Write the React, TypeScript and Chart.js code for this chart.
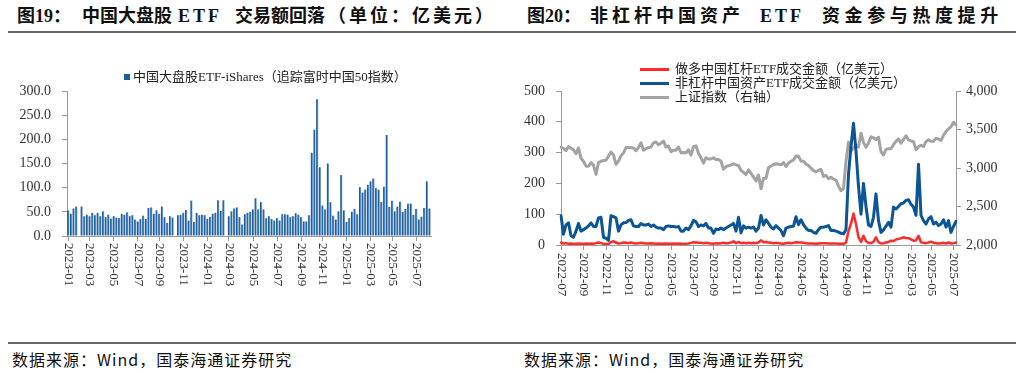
import React, { useEffect, useRef } from 'react';
import { Chart, registerables } from 'chart.js';

Chart.register(...registerables);

const SERIF_CJK = '"Liberation Serif", "Noto Sans CJK SC", serif';

// ---------------- 图19 data (weekly) ----------------
const fig19Start = '2023-01-06';
const fig19Turnover: number[] = [
  53, 46, 57, 61, 0, 61, 41, 44, 41, 48,
  43, 48, 41, 51, 39, 44, 36, 41, 38, 37,
  46, 44, 49, 41, 43, 34, 30, 35, 42, 35,
  58, 59, 46, 53, 46, 61, 39, 27, 41, 38,
  0, 43, 44, 48, 54, 32, 73, 29, 48, 43,
  44, 43, 35, 39, 46, 48, 74, 52, 74, 0,
  41, 51, 57, 59, 39, 24, 45, 48, 50, 55,
  78, 55, 70, 55, 37, 41, 35, 32, 37, 32,
  45, 45, 44, 39, 41, 47, 44, 39, 30, 30,
  43, 172, 220, 283, 142, 63, 55, 150, 70, 42,
  34, 51, 126, 53, 29, 37, 50, 56, 45, 101,
  90, 96, 106, 113, 119, 99, 96, 70, 102, 209,
  60, 73, 51, 61, 71, 50, 56, 67, 67, 44,
  56, 34, 40, 58, 113, 57,
];
const fig19YMin = 0;
const fig19YMax = 300;
const fig19YStep = 50;

// ---------------- 图20 data (weekly) ----------------
const fig20Start = '2022-07-01';
const leveragedLong: number[] = [
  8, 5, 6, 4, 5, 3, 4, 5, 4, 3,
  5, 4, 5, 4, 6, 8, 6, 4, 3, 3,
  10, 12, 8, 5, 6, 8, 7, 6, 8, 6,
  5, 6, 7, 6, 5, 5, 6, 5, 4, 5,
  4, 4, 5, 4, 4, 5, 4, 5, 4, 3,
  4, 5, 7, 9, 8, 7, 7, 6, 7, 6,
  5, 4, 6, 5, 6, 7, 6, 6, 8, 12,
  6, 10, 6, 7, 6, 7, 6, 7, 6, 8,
  15, 9, 10, 8, 7, 6, 7, 6, 5, 4,
  6, 7, 6, 7, 9, 8, 8, 7, 6, 5,
  5, 5, 4, 5, 6, 6, 6, 5, 5, 5,
  5, 4, 4, 4, 8, 45, 70, 102, 68, 25,
  10, 30, 12, 7, 6, 10, 25, 9, 5, 6,
  8, 10, 14, 13, 18, 20, 22, 25, 23, 22,
  18, 14, 15, 30, 9, 7, 6, 8, 11, 7,
  6, 5, 6, 7, 5, 8, 5, 6, 8,
];
const nonLeveraged: number[] = [
  95, 35, 65, 72, 30, 25, 45, 70, 45, 50,
  55, 62, 72, 60, 60, 88, 90, 25, 22, 15,
  95, 92, 88, 45, 65, 72, 73, 80, 82, 62,
  60, 60, 70, 65, 65, 68, 60, 65, 58, 55,
  55, 50, 60, 62, 60, 60, 58, 60, 45, 45,
  55, 50, 62, 80, 75, 60, 65, 62, 70, 55,
  55, 38, 52, 50, 55, 50, 55, 60, 65, 70,
  45, 90, 40, 62, 55, 58, 55, 58, 45, 55,
  96, 65, 82, 70, 58, 52, 63, 55, 47, 30,
  55, 58, 60, 61, 92, 66, 82, 66, 55, 47,
  47, 41, 38, 50, 58, 58, 60, 63, 47, 47,
  45, 42, 38, 36, 50, 230, 320, 395, 305, 190,
  100, 200, 125, 65, 60, 90, 166, 79, 41, 49,
  61, 74, 58, 123, 117, 125, 134, 136, 145, 147,
  132, 123, 96, 262, 96, 79, 68, 85, 92, 68,
  74, 63, 68, 82, 58, 79, 41, 60, 77,
];
const shanghaiComposite: number[] = [
  3270, 3253, 3227, 3277, 3258, 3236, 3186, 3262, 3126, 3088,
  3024, 3024, 3071, 3038, 2916, 3070, 3087, 3097, 3101, 3156,
  3206, 3168, 3046, 3089, 3158, 3195, 3265, 3265, 3263, 3260,
  3224, 3267, 3328, 3230, 3251, 3265, 3273, 3327, 3338, 3301,
  3323, 3350, 3272, 3284, 3213, 3231, 3231, 3273, 3198, 3202,
  3197, 3237, 3168, 3276, 3288, 3189, 3132, 3064, 3133, 3117,
  3117, 3132, 3110, 3110, 3088, 2983, 3017, 3030, 3039, 3054,
  3041, 3032, 2970, 2942, 2914, 2975, 2929, 2882, 2832, 2910,
  2730, 2866, 2866, 3004, 3027, 3046, 3055, 3048, 3041, 3069,
  3019, 3065, 3088, 3105, 3155, 3154, 3089, 3087, 3051, 3033,
  2998, 2967, 2950, 2971, 2982, 2891, 2905, 2862, 2879, 2855,
  2842, 2765, 2704, 2736, 3088, 3336, 3217, 3261, 3300, 3272,
  3452, 3330, 3268, 3326, 3404, 3392, 3368, 3400, 3211, 3169,
  3241, 3252, 3250, 3303, 3346, 3379, 3321, 3372, 3419, 3364,
  3351, 3342, 3238, 3277, 3296, 3279, 3342, 3367, 3348, 3347,
  3385, 3377, 3359, 3424, 3473, 3510, 3534, 3593, 3560,
];
const fig20LeftMin = 0;
const fig20LeftMax = 500;
const fig20LeftStep = 100;
const fig20RightMin = 2000;
const fig20RightMax = 4000;
const fig20RightStep = 500;

const fig19Legend = '中国大盘股ETF-iShares（追踪富时中国50指数）';
const fig20Legends = [
  '做多中国杠杆ETF成交金额（亿美元）',
  '非杠杆中国资产ETF成交金额（亿美元）',
  '上证指数（右轴）',
];

// ---------------- helpers ----------------
function weeklyDates(start: string, count: number): string[] {
  const [y, m, d] = start.split('-').map(Number);
  const t0 = Date.UTC(y, m - 1, d);
  const out: string[] = [];
  for (let i = 0; i < count; i++) {
    out.push(new Date(t0 + i * 7 * 86400000).toISOString().slice(0, 10));
  }
  return out;
}

function monthTick(labels: string[], i: number): string {
  const cur = labels[i].slice(0, 7);
  const month = Number(labels[i].slice(5, 7));
  if (month % 2 === 0) return '';
  if (i > 0 && labels[i - 1].slice(0, 7) === cur) return '';
  return cur;
}

function makeVerticalLabels(gap: number) {
  return {
    id: 'verticalTickLabels',
    afterDraw(chart: any) {
      const scale = chart.scales.x;
      const labels = chart.data.labels as string[];
      const ctx = chart.ctx;
      ctx.save();
      ctx.font = `13px ${SERIF_CJK}`;
      ctx.fillStyle = '#333';
      ctx.textAlign = 'left';
      ctx.textBaseline = 'middle';
      for (let i = 0; i < labels.length; i++) {
        const text = monthTick(labels, i);
        if (!text) continue;
        const x = scale.getPixelForValue(i);
        ctx.save();
        ctx.translate(x, scale.top + gap);
        ctx.rotate(Math.PI / 2);
        ctx.fillText(text, 0, 0);
        ctx.restore();
      }
      ctx.restore();
    },
  };
}

const AXIS = '#9a9a9a';
const TICK_TEXT = '#333';

function Fig19Chart() {
  const ref = useRef<HTMLCanvasElement>(null);
  useEffect(() => {
    if (!ref.current) return;
    const labels = weeklyDates(fig19Start, fig19Turnover.length);
    const chart = new Chart(ref.current, {
      type: 'bar',
      data: {
        labels,
        datasets: [
          {
            label: fig19Legend,
            data: fig19Turnover,
            barPercentage: 0.8,
            categoryPercentage: 1,
            backgroundColor: (c: any) => {
              const ch = c.chart;
              const xs = ch.scales && ch.scales.x;
              if (!ch.chartArea || !xs || c.type !== 'data') return '#1f5f9f';
              const x = xs.getPixelForValue(c.dataIndex);
              const half = ((xs.width / fig19Turnover.length) * 0.8) / 2;
              const g = ch.ctx.createLinearGradient(x - half, 0, x + half, 0);
              g.addColorStop(0, '#0a4a88');
              g.addColorStop(0.5, '#2a6aae');
              g.addColorStop(1, '#9fc0e2');
              return g;
            },
          },
        ],
      },
      options: {
        responsive: false,
        maintainAspectRatio: false,
        animation: false,
        events: [],
        layout: { padding: { left: 0, right: 81, top: 51, bottom: 0 } },
        plugins: { legend: { display: false }, tooltip: { enabled: false } },
        scales: {
          x: {
            type: 'category',
            offset: true,
            grid: {
              offset: false,
              drawOnChartArea: false,
              drawTicks: true,
              tickLength: 5,
              color: (c: any) => (monthTick(labels, c.index) ? AXIS : 'rgba(0,0,0,0)'),
            },
            border: { color: AXIS, width: 1 },
            ticks: { display: false, autoSkip: false },
            afterFit: (s: any) => { s.height = 104; },
          },
          y: {
            min: fig19YMin,
            max: fig19YMax,
            grid: { drawOnChartArea: false, drawTicks: true, tickLength: 5, color: AXIS },
            border: { color: AXIS, width: 1 },
            ticks: {
              stepSize: fig19YStep,
              padding: 11,
              color: TICK_TEXT,
              font: { family: SERIF_CJK, size: 14 },
              callback: (v: any) => Number(v).toFixed(1),
            },
            afterFit: (s: any) => { s.width = 67; },
          },
        },
      },
      plugins: [makeVerticalLabels(7)],
    } as any);
    return () => chart.destroy();
  }, []);
  return (
    <canvas
      ref={ref}
      width={512}
      height={300}
      style={{ position: 'absolute', left: 0, top: 40, width: 512, height: 300 }}
    />
  );
}

function Fig20Chart() {
  const ref = useRef<HTMLCanvasElement>(null);
  useEffect(() => {
    if (!ref.current) return;
    const labels = weeklyDates(fig20Start, shanghaiComposite.length);
    const common = { pointRadius: 0, tension: 0, borderJoinStyle: 'round', borderCapStyle: 'round' };
    const chart = new Chart(ref.current, {
      type: 'line',
      data: {
        labels,
        datasets: [
          { ...common, label: fig20Legends[0], data: leveragedLong, borderColor: '#ff2a2a', borderWidth: 2.5, yAxisID: 'y' },
          { ...common, label: fig20Legends[1], data: nonLeveraged, borderColor: '#0b5596', borderWidth: 3, yAxisID: 'y' },
          { ...common, label: fig20Legends[2], data: shanghaiComposite, borderColor: '#a3a3a3', borderWidth: 3, yAxisID: 'y1' },
        ],
      },
      options: {
        responsive: false,
        maintainAspectRatio: false,
        animation: false,
        events: [],
        layout: { padding: { left: 0, right: 0, top: 51, bottom: 0 } },
        plugins: { legend: { display: false }, tooltip: { enabled: false } },
        scales: {
          x: {
            type: 'category',
            offset: false,
            grid: {
              offset: false,
              drawOnChartArea: false,
              drawTicks: true,
              tickLength: 5,
              color: (c: any) => (monthTick(labels, c.index) ? AXIS : 'rgba(0,0,0,0)'),
            },
            border: { color: AXIS, width: 1 },
            ticks: { display: false, autoSkip: false },
            afterFit: (s: any) => { s.height = 95; },
          },
          y: {
            position: 'left',
            min: fig20LeftMin,
            max: fig20LeftMax,
            grid: { drawOnChartArea: false, drawTicks: true, tickLength: 5, color: AXIS },
            border: { color: AXIS, width: 1 },
            ticks: {
              stepSize: fig20LeftStep,
              padding: 11,
              color: TICK_TEXT,
              font: { family: SERIF_CJK, size: 14 },
            },
            afterFit: (s: any) => { s.width = 49; },
          },
          y1: {
            position: 'right',
            min: fig20RightMin,
            max: fig20RightMax,
            grid: { drawOnChartArea: false, drawTicks: true, tickLength: 5, color: AXIS },
            border: { color: AXIS, width: 1 },
            ticks: {
              stepSize: fig20RightStep,
              padding: 5,
              color: TICK_TEXT,
              font: { family: SERIF_CJK, size: 14 },
              callback: (v: any) => Number(v).toLocaleString('en-US'),
            },
            afterFit: (s: any) => { s.width = 68; },
          },
        },
      },
      plugins: [makeVerticalLabels(8)],
    } as any);
    return () => chart.destroy();
  }, []);
  return (
    <canvas
      ref={ref}
      width={512}
      height={300}
      style={{ position: 'absolute', left: 512, top: 40, width: 512, height: 300 }}
    />
  );
}

const legendColors = ['#ff2a2a', '#0b5596', '#a3a3a3'];

type Seg = { text: string; left: number; ls?: number };
const fig19TitleSegs: Seg[] = [
  { text: '图19：', left: 17 },
  { text: '中国大盘股', left: 82 },
  { text: 'ETF', left: 178, ls: 3 },
  { text: '交易额回落', left: 235 },
  { text: '（单位：亿美元）', left: 328, ls: 3 },
];
const fig20TitleSegs: Seg[] = [
  { text: '图20：', left: 527 },
  { text: '非杠杆中国资产', left: 590, ls: 4 },
  { text: 'ETF', left: 760, ls: 3 },
  { text: '资金参与热度提升', left: 822, ls: 4.6 },
];

export default function App() {
  const titleStyle: React.CSSProperties = {
    position: 'absolute',
    top: 6,
    fontSize: 18,
    fontWeight: 700,
    lineHeight: '20px',
    whiteSpace: 'pre',
    color: '#111',
  };
  const footStyle: React.CSSProperties = {
    position: 'absolute',
    top: 350,
    fontSize: 16,
    lineHeight: '18px',
    letterSpacing: '1px',
    whiteSpace: 'pre',
    color: '#111',
    fontFamily: '"Noto Sans CJK SC", sans-serif',
  };
  return (
    <div
      style={{
        position: 'fixed',
        left: 0,
        top: 0,
        width: 1024,
        height: 374,
        background: '#fff',
        overflow: 'hidden',
        fontFamily: SERIF_CJK,
      }}
    >
      {[...fig19TitleSegs, ...fig20TitleSegs].map((s) => (
        <div key={s.text + s.left} style={{ ...titleStyle, left: s.left, letterSpacing: `${s.ls || 0}px` }}>
          {s.text}
        </div>
      ))}
      <div style={{ position: 'absolute', left: 8, top: 31, width: 1008, height: 2, background: '#666' }} />
      <div style={{ position: 'absolute', left: 8, top: 342, width: 1008, height: 2, background: '#666' }} />

      <Fig19Chart />
      <Fig20Chart />

      {/* Figure 19 legend */}
      <div style={{ position: 'absolute', left: 124, top: 74, width: 6, height: 6, background: '#1b5d9c' }} />
      <div style={{ position: 'absolute', left: 133, top: 69, fontSize: 13, lineHeight: '16px', whiteSpace: 'pre', color: '#222' }}>
        {fig19Legend}
      </div>

      {/* Figure 20 legend */}
      {fig20Legends.map((t, i) => (
        <React.Fragment key={t}>
          <div
            style={{
              position: 'absolute',
              left: 640,
              top: 69 + i * 14 - 1.5,
              width: 29,
              height: 3,
              background: legendColors[i],
            }}
          />
          <div
            style={{
              position: 'absolute',
              left: 675,
              top: 69 + i * 14 - 8,
              fontSize: 13,
              lineHeight: '16px',
              whiteSpace: 'pre',
              color: '#222',
            }}
          >
            {t}
          </div>
        </React.Fragment>
      ))}

      <div style={{ ...footStyle, left: 12 }}>数据来源：Wind，国泰海通证券研究</div>
      <div style={{ ...footStyle, left: 524 }}>数据来源：Wind，国泰海通证券研究</div>
    </div>
  );
}
